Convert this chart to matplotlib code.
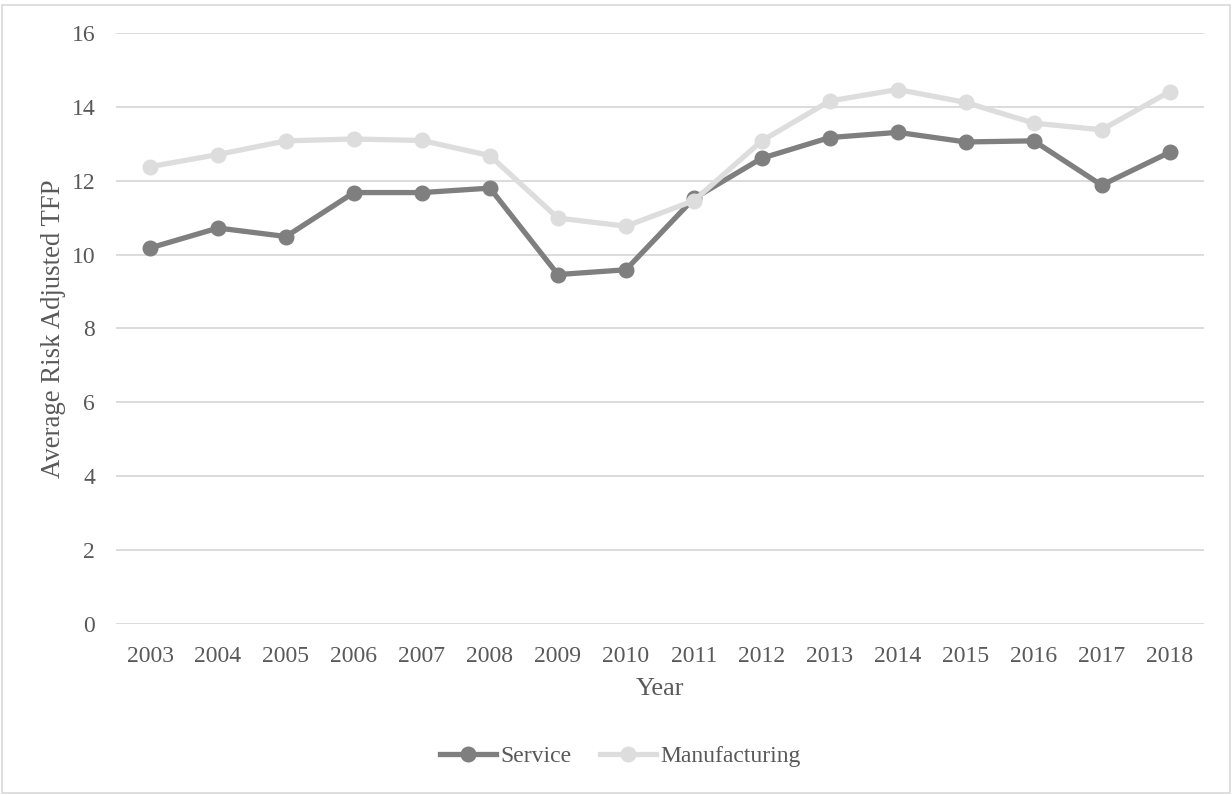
import matplotlib.pyplot as plt
from matplotlib.patches import Rectangle

years = [2003, 2004, 2005, 2006, 2007, 2008, 2009, 2010,
         2011, 2012, 2013, 2014, 2015, 2016, 2017, 2018]
service = [10.18, 10.72, 10.49, 11.68, 11.68, 11.80, 9.46, 9.59,
           11.52, 12.61, 13.17, 13.31, 13.05, 13.08, 11.88, 12.77]
manufacturing = [12.38, 12.71, 13.08, 13.13, 13.09, 12.68, 10.99, 10.77,
                 11.46, 13.08, 14.16, 14.47, 14.12, 13.56, 13.38, 14.41]
yticks = [0, 2, 4, 6, 8, 10, 12, 14, 16]

texto = '#595959'
plt.rcParams['font.family'] = ['Liberation Serif', 'DejaVu Serif']

fig = plt.figure(figsize=(12.32, 7.95), dpi=100)
ax = fig.add_axes([0.0942, 0.2151, 0.8828, 0.7434])

x = list(range(len(years)))
ax.plot(x, service, color='#7f7f7f', lw=3.8, marker='o', ms=10.5,
        label='Service', zorder=3)
ax.plot(x, manufacturing, color='#dddddd', lw=3.8, marker='o', ms=10.5,
        label='Manufacturing', zorder=4)

ax.set_xlim(-0.5, len(years) - 0.5)
ax.set_ylim(0, 16)
ax.set_yticks(yticks)
ax.set_xticks(x)
ax.set_xticklabels([str(a) for a in years])
ax.tick_params(length=0, labelsize=17, labelcolor=texto)
ax.tick_params(axis='x', pad=16)
ax.tick_params(axis='y', pad=15)
ax.grid(axis='y', color='#d9d9d9', lw=1.3)
ax.set_axisbelow(True)
for s in ax.spines.values():
    s.set_visible(False)

ax.set_xlabel('Year', fontsize=19, color=texto, labelpad=8)
ax.set_ylabel('Average Risk Adjusted TFP', fontsize=19.3, color=texto, labelpad=4)

fig.legend(loc='center', bbox_to_anchor=(0.5037, 0.049), ncol=2, frameon=False,
           fontsize=17, labelcolor=texto, handlelength=2.35, handletextpad=0.2,
           columnspacing=1.2)

# marco gris alrededor de la figura
fig.patches.append(Rectangle((0.002, 0.002), 0.996, 0.992, transform=fig.transFigure,
                             fill=False, edgecolor='#d9d9d9', lw=1.2))

fig.savefig('out.png', dpi=100)
